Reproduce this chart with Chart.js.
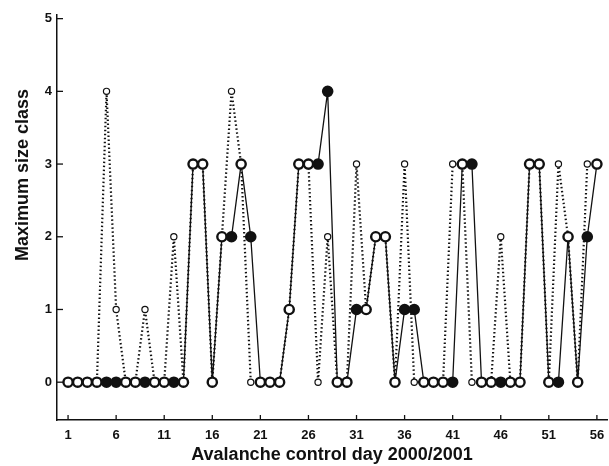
<!DOCTYPE html>
<html>
<head>
<meta charset="utf-8">
<script src="https://cdn.jsdelivr.net/npm/chart.js@4.4.1/dist/chart.umd.min.js"></script>
<style>
  html, body { margin: 0; padding: 0; background: #fff; }
  #wrap { width: 609px; height: 466px; position: relative; }
</style>
</head>
<body>
<div id="wrap"><canvas id="chart1"></canvas></div>
<script>
// avalanche control days
const days = [1, 2, 3, 4, 5, 6, 7, 8, 9, 10, 11, 12, 13, 14, 15, 16, 17, 18, 19, 20,
  21, 22, 23, 24, 25, 26, 27, 28, 29, 30, 31, 32, 33, 34, 35, 36, 37, 38, 39, 40,
  41, 42, 43, 44, 45, 46, 47, 48, 49, 50, 51, 52, 53, 54, 55, 56];

// solid line, thick circles
const observedSize = [0, 0, 0, 0, 0, 0, 0, 0, 0, 0, 0, 0, 0, 3, 3, 0, 2, 2, 3, 2,
  0, 0, 0, 1, 3, 3, 3, 4, 0, 0, 1, 1, 2, 2, 0, 1, 1, 0, 0, 0,
  0, 3, 3, 0, 0, 0, 0, 0, 3, 3, 0, 0, 2, 0, 2, 3];

// dotted line, small circles
const forecastSize = [0, 0, 0, 0, 4, 1, 0, 0, 1, 0, 0, 2, 0, 3, 3, 0, 2, 4, 3, 0,
  0, 0, 0, 1, 3, 3, 0, 2, 0, 0, 3, 1, 2, 2, 0, 3, 0, 0, 0, 0,
  3, 3, 0, 0, 0, 2, 0, 0, 3, 3, 0, 3, 2, 0, 3, 3];

const xTicks = [1, 6, 11, 16, 21, 26, 31, 36, 41, 46, 51, 56];
const yTicks = [0, 1, 2, 3, 4, 5];

const ink = '#111';
const fontFamily = "'Liberation Sans', Arial, sans-serif";

Chart.defaults.font.family = fontFamily;
Chart.defaults.color = ink;

const toPoints = (arr) => days.map((d, i) => ({ x: d, y: arr[i] }));

// filled circle where the two series disagree
const fillColors = observedSize.map((v, i) => v !== forecastSize[i] ? ink : '#fff');

// ticks drawn inward + rotated y title
const extras = {
  id: 'extras',
  afterDraw(chart) {
    const ctx = chart.ctx;
    const xs = chart.scales.x;
    const ys = chart.scales.y;
    const area = chart.chartArea;
    ctx.save();
    ctx.strokeStyle = ink;
    ctx.lineWidth = 1.3;
    xTicks.forEach(t => {
      const px = xs.getPixelForValue(t);
      ctx.beginPath();
      ctx.moveTo(px, area.bottom);
      ctx.lineTo(px, area.bottom - 5);
      ctx.stroke();
    });
    yTicks.forEach(t => {
      const py = ys.getPixelForValue(t);
      ctx.beginPath();
      ctx.moveTo(area.left, py);
      ctx.lineTo(area.left + 6, py);
      ctx.stroke();
    });
    ctx.translate(23, 175);
    ctx.rotate(-Math.PI / 2);
    ctx.fillStyle = ink;
    ctx.font = 'bold 18px ' + fontFamily;
    ctx.textAlign = 'center';
    ctx.textBaseline = 'middle';
    ctx.fillText('Maximum size class', 0, 0);
    ctx.restore();
  }
};

const data = {
  datasets: [
    {
      label: 'Observed',
      data: toPoints(observedSize),
      borderColor: ink,
      borderWidth: 1.3,
      pointRadius: 4.6,
      pointBorderWidth: 2.4,
      pointBorderColor: ink,
      pointBackgroundColor: fillColors,
      tension: 0,
      order: 0,
    },
    {
      label: 'Forecast',
      data: toPoints(forecastSize),
      borderColor: ink,
      borderWidth: 2.2,
      borderDash: [1.5, 2.5],
      pointRadius: 3.1,
      pointBorderWidth: 1.2,
      pointBorderColor: ink,
      pointBackgroundColor: '#fff',
      tension: 0,
      order: 1,
    },
  ]
};

const config = {
  type: 'line',
  data: data,
  plugins: [extras],
  options: {
    responsive: true,
    maintainAspectRatio: false,
    animation: false,
    layout: { autoPadding: false, padding: { top: 15, right: 2, left: 0, bottom: 0 } },
    plugins: {
      legend: { display: false },
      tooltip: { enabled: false },
    },
    scales: {
      x: {
        type: 'linear',
        min: -0.15,
        max: 57.05,
        afterBuildTicks: (scale) => { scale.ticks = xTicks.map(v => ({ value: v })); },
        afterFit: (scale) => {
          scale.height = 46;
          scale.paddingLeft = 0;
          scale.paddingRight = 0;
        },
        grid: { display: false, drawTicks: false },
        border: { display: true, color: ink, width: 1.5 },
        ticks: {
          padding: 8,
          color: ink,
          font: { size: 13, weight: 'bold' },
        },
        title: {
          display: true,
          text: 'Avalanche control day 2000/2001',
          color: ink,
          font: { size: 18, weight: 'bold' },
          padding: { top: 0, bottom: 0 },
        },
      },
      y: {
        min: -0.52,
        max: 5.05,
        afterBuildTicks: (scale) => { scale.ticks = yTicks.map(v => ({ value: v })); },
        afterFit: (scale) => { scale.width = 57; },
        grid: { display: false, drawTicks: false },
        border: { display: true, color: ink, width: 1.5 },
        ticks: {
          padding: 5,
          color: ink,
          font: { size: 13, weight: 'bold' },
        },
      },
    },
  }
};

new Chart(document.getElementById('chart1'), config);
</script>
</body>
</html>
